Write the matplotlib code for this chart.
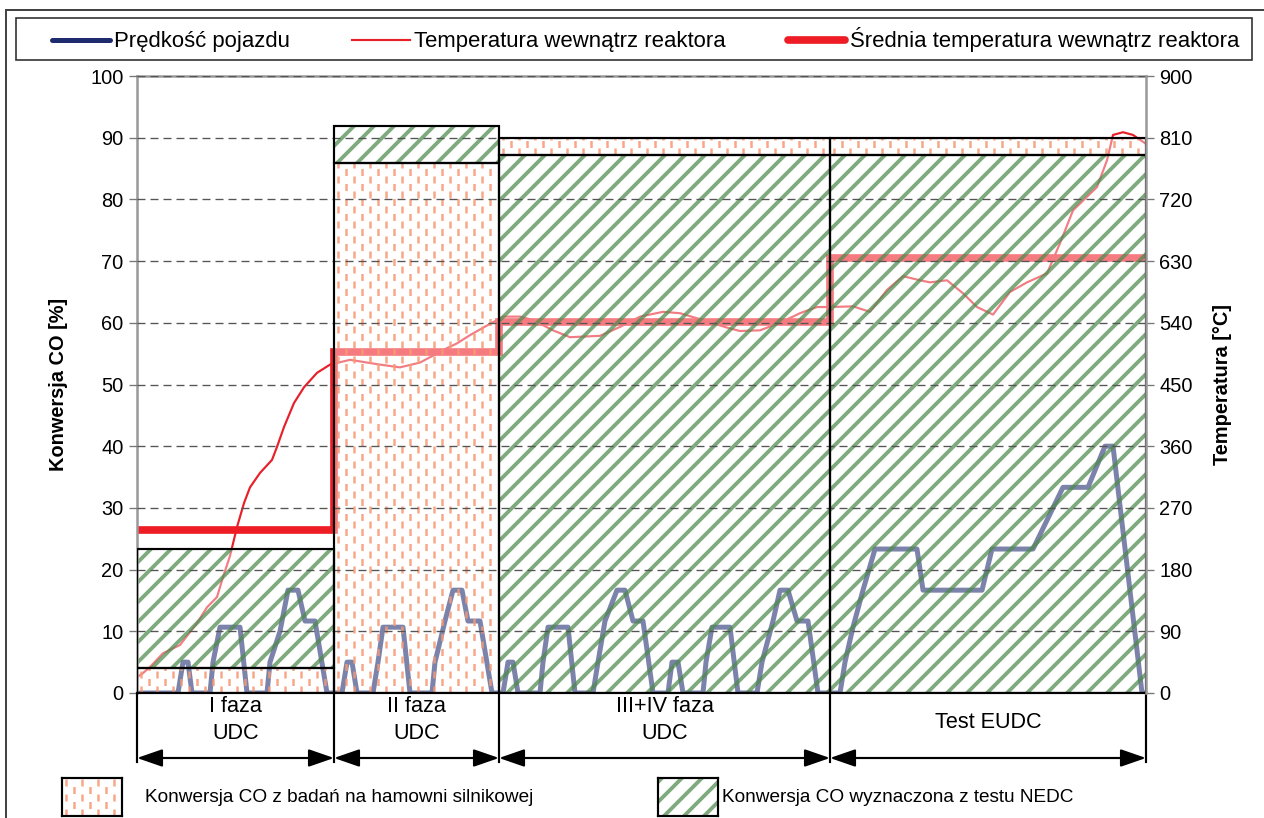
import numpy as np
import matplotlib
matplotlib.use("Agg")
import matplotlib.pyplot as plt
from matplotlib.patches import Rectangle, FancyArrowPatch
from matplotlib.lines import Line2D
from matplotlib.transforms import Affine2D, blended_transform_factory

plt.rcParams['font.family'] = ['Liberation Sans', 'DejaVu Sans']
plt.rcParams['lines.scale_dashes'] = False
plt.rcParams['hatch.linewidth'] = 2.3

DPI = 120
W, H = 1264, 818

# ---------------- data ----------------
phase_edges = [0, 197, 362, 693, 1009]
phase_labels = ['I faza\nUDC', 'II faza\nUDC', 'III+IV faza\nUDC', 'Test EUDC']
conv_nedc = [23.3, 91.9, 87.2, 87.2]   # Konwersja CO wyznaczona z testu NEDC [%]
conv_dyno = [4.0, 85.9, 90.0, 90.0]    # Konwersja CO z badan na hamowni [%]
temp_mean = [238, 498, 541, 634]       # srednia temperatura [C]

speed_t = [0, 41, 46, 51, 55, 73, 76, 83, 103, 110, 130, 133, 143, 151, 161, 168, 178, 190,
           205, 210, 215, 220, 236, 241, 246, 266, 273, 295, 298, 308, 316, 325, 331, 343, 355,
           366, 371, 376, 381, 403, 406, 411, 431, 438, 456, 461, 468, 480, 488, 496, 506, 516,
           531, 535, 541, 546, 566, 569, 575, 593, 601, 620, 625, 636, 643, 651, 660, 671, 681,
           703, 708, 716, 726, 738, 780, 786, 845, 855, 896, 926, 951, 968, 976, 1005, 1009]
speed_v = [0, 0, 15, 15, 0, 0, 15, 32, 32, 0, 0, 15, 30, 50, 50, 35, 35, 0,
           0, 15, 15, 0, 0, 15, 32, 32, 0, 0, 15, 35, 50, 50, 35, 35, 0,
           0, 15, 15, 0, 0, 15, 32, 32, 0, 0, 15, 35, 50, 50, 35, 35, 0,
           0, 15, 15, 0, 0, 15, 32, 32, 0, 0, 15, 35, 50, 50, 35, 35, 0,
           0, 15, 32, 50, 70, 70, 50, 50, 70, 70, 100, 100, 120, 120, 0, 0]

temp_t = [0, 6, 13, 26, 43, 60, 70, 80, 86, 93, 100, 107, 113, 123, 135, 140, 147, 157, 167, 180, 193,
          213, 243, 263, 283, 310, 320, 333, 350, 360, 366, 383, 396, 416, 433, 463, 483, 503, 526, 543,
          566, 590, 603, 623, 643, 663, 680, 693, 716, 733, 750, 766, 783, 793, 810, 826, 840, 856, 873,
          890, 910, 923, 936, 960, 970, 976, 986, 996, 1008]
temp_v = [23, 29, 38, 58, 70, 102, 125, 140, 169, 200, 242, 277, 300, 321, 340, 359, 388, 423, 446, 467, 479,
          486, 479, 475, 482, 503, 510, 522, 536, 544, 549, 549, 544, 529, 519, 521, 534, 549, 556, 554,
          544, 533, 528, 529, 540, 554, 563, 563, 564, 556, 588, 608, 602, 599, 602, 583, 563, 552, 585,
          599, 612, 656, 704, 738, 777, 814, 818, 814, 802]

# ---------------- styles ----------------
NAVY = '#1E2B6E'
RED = '#E8202A'
RED_THICK = '#EE1C25'
GREEN_HATCH = (0.30, 0.54, 0.30, 0.72)
ORANGE_DASH = (0.96, 0.60, 0.46, 0.85)
VEIL = (1, 1, 1, 0.42)


def fx(px):
    return px / W


def fy(py):
    return 1 - py / H


fig = plt.figure(figsize=(W / DPI, H / DPI), dpi=DPI)
ax = fig.add_axes([fx(137), fy(693), (1146 - 137) / W, (693 - 76) / H])
ax.set_axisbelow(False)

t_temp = Affine2D().scale(1, 100 / 900) + ax.transData
t_speed = Affine2D().scale(1, 100 / 300) + ax.transData

# lines below the bars (bars veil them)
ax.plot(speed_t, speed_v, color=NAVY, lw=3.0, transform=t_speed, zorder=1.0,
        solid_joinstyle='round')
ax.plot(temp_t, temp_v, color=RED, lw=1.3, transform=t_temp, zorder=1.1)
ax.stairs(temp_mean, phase_edges, baseline=None, color=RED_THICK, lw=4.6,
          transform=t_temp, zorder=1.2)


def orange_pattern(a, x0, x1, y0, y1, z=1.6):
    xs = np.arange(x0 + 4, x1 - 1, 8.0)
    ev, od = xs[0::2], xs[1::2]
    a.vlines(ev, y0, y1, colors=[ORANGE_DASH], linewidths=1.5,
             linestyles=[(0, (4.2, 4.8))], zorder=z)
    a.vlines(od, y0, y1, colors=[ORANGE_DASH], linewidths=1.5,
             linestyles=[(4.5, (4.2, 4.8))], zorder=z)


def seg(a, x0, x1, y0, y1, kind):
    w = x1 - x0
    if kind == 'nedc':
        a.bar(x0, y1 - y0, width=w, bottom=y0, align='edge', facecolor=VEIL,
              edgecolor=GREEN_HATCH, hatch='//', linewidth=0, zorder=1.5)
    else:
        a.bar(x0, y1 - y0, width=w, bottom=y0, align='edge', facecolor=VEIL,
              linewidth=0, zorder=1.5)
        orange_pattern(a, x0, x1, y0, y1)
    a.bar(x0, y1 - y0, width=w, bottom=y0, align='edge', fill=False,
          edgecolor='black', linewidth=1.3, zorder=3)


for i in range(4):
    x0, x1 = phase_edges[i], phase_edges[i + 1]
    n, d = conv_nedc[i], conv_dyno[i]
    if d <= n:
        seg(ax, x0, x1, 0, d, 'dyno')
        seg(ax, x0, x1, d, n, 'nedc')
    else:
        seg(ax, x0, x1, 0, n, 'nedc')
        seg(ax, x0, x1, n, d, 'dyno')

ax.set_xlim(phase_edges[0], phase_edges[-1])
ax.set_ylim(0, 100)
ax.set_xticks([])
ax.set_yticks(range(0, 101, 10))
ax.yaxis.grid(True, color='#555555', lw=0.8, linestyle=(0, (4.8, 3.0)))
ax.tick_params(axis='y', direction='out', length=5, width=0.8, color='#777777',
               labelsize=12, pad=3)
for s in ['top', 'left']:
    ax.spines[s].set_color('#999999')
    ax.spines[s].set_linewidth(1.5)
ax.spines['right'].set_visible(False)
ax.spines['bottom'].set_color('black')
ax.spines['bottom'].set_linewidth(1.3)

ax2 = ax.twinx()
ax2.set_ylim(0, 900)
ax2.set_yticks(range(0, 901, 90))
ax2.tick_params(axis='y', direction='out', length=5, width=0.8, color='#777777',
                labelsize=12, pad=3)
for s in ['top', 'left', 'bottom']:
    ax2.spines[s].set_visible(False)
ax2.spines['right'].set_color('#999999')
ax2.spines['right'].set_linewidth(1.5)
ax2.patch.set_visible(False)

fig.text(fx(58), (fy(693) + fy(76)) / 2, 'Konwersja CO [%]', rotation=90,
         ha='center', va='center', fontsize=12, fontweight='bold')
fig.text(fx(1222), (fy(693) + fy(76)) / 2, 'Temperatura [°C]', rotation=90,
         ha='center', va='center', fontsize=12, fontweight='bold')

# phase table under the axis
blend = blended_transform_factory(ax.transData, ax.transAxes)
ah = 617.0
for e in phase_edges:
    ax.plot([e, e], [0, -69 / ah], transform=blend, color='black', lw=1.3,
            clip_on=False, zorder=3)
for i in range(4):
    x0, x1 = phase_edges[i], phase_edges[i + 1]
    arr = FancyArrowPatch((x0, -65 / ah), (x1, -65 / ah), transform=blend,
                          arrowstyle='<|-|>,head_length=1.3,head_width=0.45',
                          mutation_scale=10, color='black', lw=1.3,
                          shrinkA=0, shrinkB=0, clip_on=False, zorder=3)
    ax.add_patch(arr)
    yy = -27 / ah if '\n' in phase_labels[i] else -29 / ah
    ax.text((x0 + x1) / 2, yy, phase_labels[i], transform=blend, ha='center',
            va='center', fontsize=13, linespacing=1.4)

# frame lines and top legend
fig.add_artist(Rectangle((fx(16), fy(60)), fx(1252) - fx(16), (60 - 18) / H,
                         transform=fig.transFigure, fill=False,
                         edgecolor='#333333', lw=1.0))
fig.add_artist(Line2D([fx(6), fx(6)], [fy(818), fy(10)], transform=fig.transFigure,
                      color='#444444', lw=1.2))
fig.add_artist(Line2D([fx(6), 1.0], [fy(10), fy(10)], transform=fig.transFigure,
                      color='#444444', lw=1.2))
handles = [Line2D([], [], color=NAVY, lw=3.0, solid_capstyle='round'),
           Line2D([], [], color=RED, lw=1.3),
           Line2D([], [], color=RED_THICK, lw=4.6, solid_capstyle='round')]
labels = ['Prędkość pojazdu', 'Temperatura wewnątrz reaktora',
          'Średnia temperatura wewnątrz reaktora']
fig.legend(handles, labels, loc='center left', bbox_to_anchor=(fx(52), fy(40)),
           ncol=3, frameon=False, fontsize=13.3, handlelength=2.6,
           handletextpad=0.2, columnspacing=2.8, borderpad=0, borderaxespad=0)

# bottom legend
for (bx, kind, tx, txt) in [(62, 'dyno', 145, 'Konwersja CO z badań na hamowni silnikowej'),
                            (658, 'nedc', 722, 'Konwersja CO wyznaczona z testu NEDC')]:
    lax = fig.add_axes([fx(bx), fy(816), 60 / W, 38 / H])
    lax.set_xlim(0, 60)
    lax.set_ylim(0, 38)
    lax.set_xticks([])
    lax.set_yticks([])
    if kind == 'nedc':
        lax.bar(0, 38, width=60, align='edge', facecolor='white',
                edgecolor=GREEN_HATCH, hatch='//', linewidth=0)
    else:
        orange_pattern(lax, 0, 60, 0, 38)
    for s in lax.spines.values():
        s.set_color('black')
        s.set_linewidth(1.3)
    fig.text(fx(tx), fy(797), txt, ha='left', va='center', fontsize=11.4)

fig.savefig('out.png', dpi=DPI)
